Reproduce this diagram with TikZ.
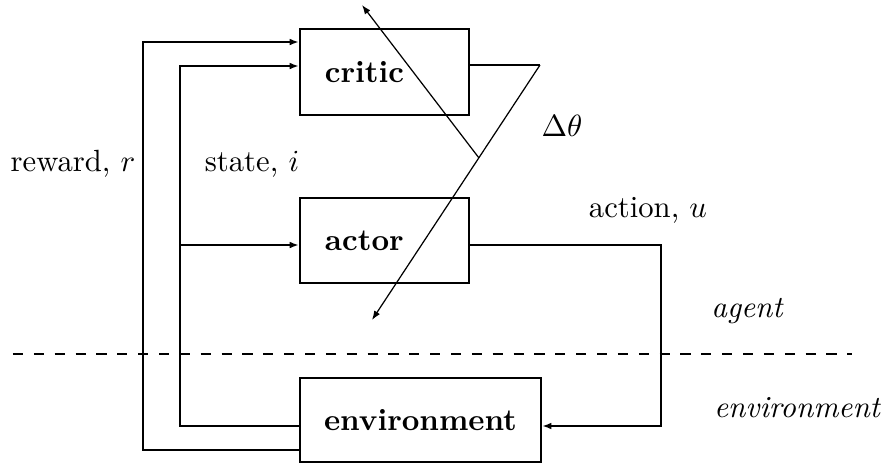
\documentclass[tikz,border=0pt]{standalone}
\usetikzlibrary{arrows.meta}
\begin{document}
\begin{tikzpicture}[x=0.326pt, y=-0.326pt, >={Latex[length=3pt,width=2.2pt]},
        block/.style={draw, line width=0.7pt, font=\bfseries, inner ysep=0pt},
        wire/.style={line width=0.7pt},
        thin wire/.style={line width=0.4pt}]
        \useasboundingbox (0,0) rectangle (883,463);
        % blocks
        \node[block, minimum width=55.1pt, minimum height=28pt, text width=38.8pt, inner xsep=8.15pt, align=left] (critic) at (384.5,72) {critic};
        \node[block, minimum width=55.1pt, minimum height=27.7pt, text width=38.8pt, inner xsep=8.15pt, align=left] (actor) at (384.5,240.5) {actor};
        \node[block, minimum width=78.6pt, minimum height=27.4pt, align=center] (env) at (420.5,420) {environment};
        % corner points
        \coordinate (rb) at (143,450);
        \coordinate (rt) at (143,42);
        \coordinate (sb) at (180,426);
        \coordinate (st) at (180,66);
        \coordinate (sa) at (180,245);
        \coordinate (au) at (661,245);
        \coordinate (ad) at (661,426);
        \coordinate (cq) at (540,65);
        \coordinate (cx) at (479,158);
        \coordinate (dtip) at (372,320);
        \coordinate (utip) at (362,5);
        \coordinate (dl) at (13,354);
        \coordinate (dr) at (852,354);
        % connectors
        \draw[wire, ->] (rb -| env.west) -- (rb) -- (rt) -- (rt -| critic.west);
        \draw[wire, ->] (sb -| env.west) -- (sb) -- (st) -- (st -| critic.west);
        \draw[wire, ->] (sa) -- (sa -| actor.west);
        \draw[wire, ->] (au -| actor.east) -- (au) -- (ad) -- (ad -| env.east);
        \draw[wire] (cq -| critic.east) -- (cq);
        \draw[thin wire, ->] (cq) -- (dtip);
        \draw[thin wire, ->] (cx) -- (utip);
        \draw[wire, dash pattern=on 3.3pt off 3.5pt] (dl) -- (dr);
        % labels
        \node (reward) at (73,164) {reward, $r$};
        \node (state) at (252,164) {state, $i$};
        \node (dtheta) at (562,126) {$\Delta\theta$};
        \node (action) at (648,210) {action, $u$};
        \node (agent) at (747,311) {\itshape agent};
        \node (envlabel) at (797,408) {\itshape environment};
\end{tikzpicture}
\end{document}
